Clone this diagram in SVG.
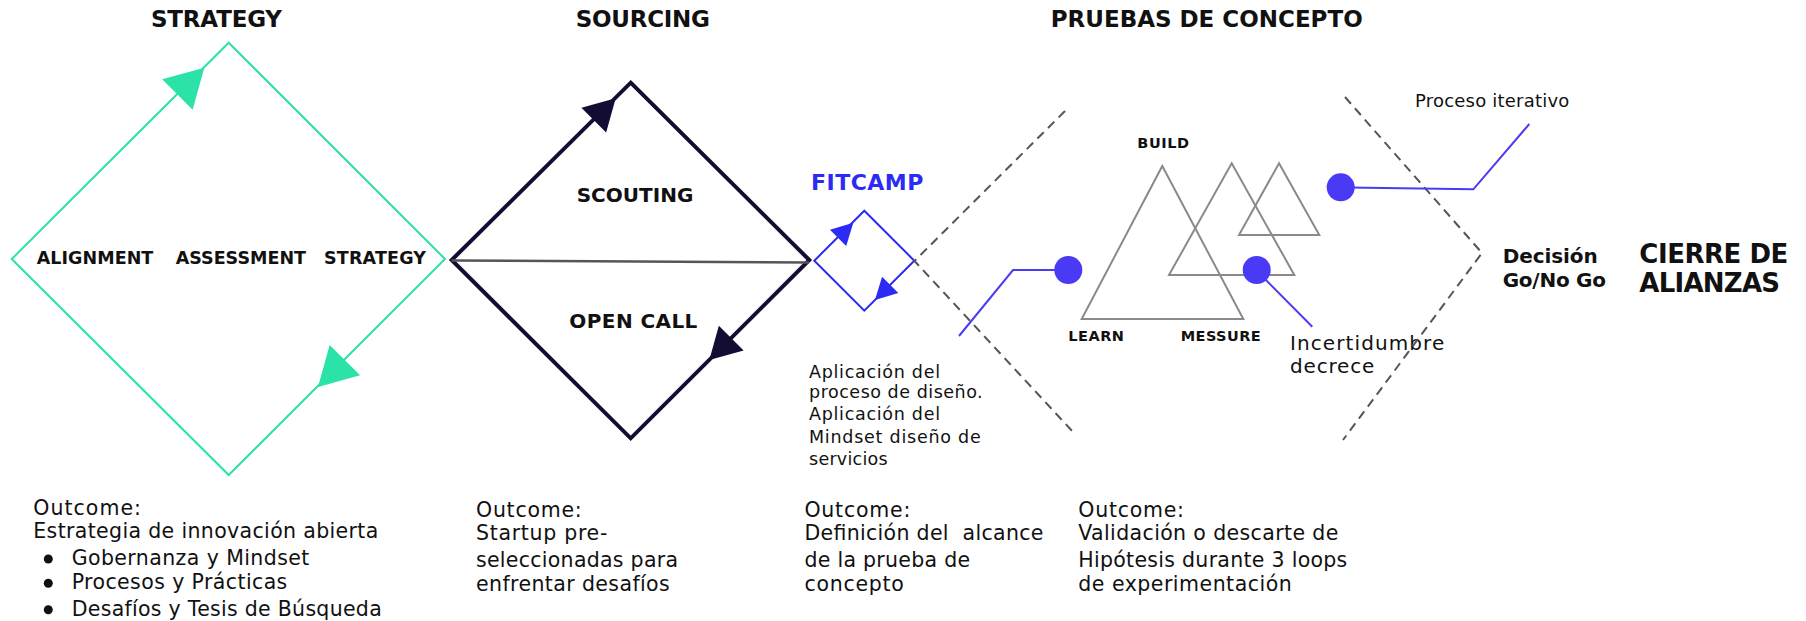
<svg xmlns="http://www.w3.org/2000/svg" xmlns:xlink="http://www.w3.org/1999/xlink" width="1806" height="621" viewBox="0 0 1806 621">
<style>
text{font-family:"DejaVu Sans","Liberation Sans",sans-serif;fill:#111}
.b{font-weight:bold}
.h{font-size:23px}
.l17{font-size:17.5px}
.l19{font-size:20px}
.r{font-size:20.5px}
.s{font-size:17.5px}
.blue{fill:#2b2bf3}
.green{fill:none;stroke:#2be2a8;stroke-width:2}
.navy{fill:none;stroke:#140d33;stroke-width:4;stroke-linejoin:miter}
.fit{fill:none;stroke:#2b2bf3;stroke-width:2}
.tri{fill:none;stroke:#8a8a8a;stroke-width:2}
.dash{fill:none;stroke:#555;stroke-width:2;stroke-dasharray:9 6}
.lead{fill:none;stroke:#4a3cf5;stroke-width:2}
.dot{fill:#4a3af5}
</style>
<defs>
<polygon id="agreen" points="0,0 -38,-21.5 -38,21.5" fill="#2be2a8"/>
<polygon id="anavy" points="0,0 -31,-17.5 -31,17.5" fill="#140d33"/>
<polygon id="ablue" points="0,0 -21.5,-11.5 -21.5,11.5" fill="#2b2bf3"/>
</defs>
<rect width="1806" height="621" fill="#fff"/>

<g id="titles">
<text class="b h" x="151" y="27.3" textLength="131">STRATEGY</text>
<text class="b h" x="575.7" y="26.7" textLength="134.3">SOURCING</text>
<text class="b h" x="1050.7" y="26.7" textLength="312">PRUEBAS DE CONCEPTO</text>
</g>

<g id="strategy">
<polygon class="green" points="228.7,42.7 445,259 228.7,475 11.7,259"/>
<text class="b l17" x="36.7" y="264.3" textLength="116.6">ALIGNMENT</text>
<text class="b l17" x="175.7" y="264.3" textLength="130.3">ASSESSMENT</text>
<text class="b l17" x="324" y="264.3" textLength="102">STRATEGY</text>
</g>

<g id="sourcing">
<polygon class="navy" points="630.7,82.7 809.3,260 630.7,438.3 451.7,260"/>
<line x1="451.7" y1="260.5" x2="809" y2="262.5" stroke="#555" stroke-width="2.5"/>
<text class="b l19" x="576.7" y="201.7" textLength="116.6">SCOUTING</text>
<text class="b l19" x="569.3" y="328.3" textLength="128">OPEN CALL</text>
</g>

<g id="fitcamp">
<text class="b blue" style="font-size:22px" x="811" y="190" textLength="112.3">FITCAMP</text>
<polygon class="fit" points="864.3,210.7 914.3,260.7 864.3,310.7 814.3,260.7"/>
<text class="s" x="809" y="377.7" textLength="131">Aplicación del</text>
<text class="s" x="809" y="398.3" textLength="173.7">proceso de diseño.</text>
<text class="s" x="809" y="420" textLength="131">Aplicación del</text>
<text class="s" x="809" y="443.3" textLength="171.7">Mindset diseño de</text>
<text class="s" x="809" y="465" textLength="78.7">servicios</text>
</g>

<g id="pruebas">
<polygon class="tri" points="1162.3,166 1243.3,319 1081.7,319"/>
<polygon class="tri" points="1231.7,163.3 1294.3,275 1169,275"/>
<polygon class="tri" points="1279,163.3 1319.3,235 1239,235"/>
<text class="b" style="font-size:14.5px" x="1137.3" y="147.7" textLength="51.7">BUILD</text>
<text class="b" style="font-size:14.5px" x="1068.3" y="340.7" textLength="55.7">LEARN</text>
<text class="b" style="font-size:14.5px" x="1180.7" y="340.7" textLength="80">MESSURE</text>
<text style="font-size:18px" x="1415" y="106.7" textLength="154.3">Proceso iterativo</text>
<text class="l19" x="1290" y="350" textLength="154.3">Incertidumbre</text>
<text class="l19" x="1290" y="373.3" textLength="84.3">decrece</text>
</g>

<g id="cierre">
<text class="b l19" x="1502.7" y="263.3" textLength="95">Decisión</text>
<text class="b l19" x="1502.7" y="287.3" textLength="103.3">Go/No Go</text>
<text class="b" style="font-size:26px" x="1639.3" y="262.7" textLength="149">CIERRE DE</text>
<text class="b" style="font-size:26px" x="1639.3" y="291.7" textLength="140.7">ALIANZAS</text>
</g>

<g id="connectors">
<use xlink:href="#agreen" transform="translate(204.3,67.7) rotate(-45)"/>
<use xlink:href="#agreen" transform="translate(318,387) rotate(135)"/>
<use xlink:href="#anavy" transform="translate(615.7,98.3) rotate(-45)"/>
<use xlink:href="#anavy" transform="translate(709.3,360) rotate(135)"/>
<use xlink:href="#ablue" transform="translate(853.3,222.7) rotate(-45)"/>
<use xlink:href="#ablue" transform="translate(875,300) rotate(135)"/>
<polyline class="dash" points="1065,111 914.5,261 1073,432"/>
<polyline class="dash" points="1345,97 1482,253 1343,440"/>
<polyline class="lead" points="959,336 1013,270 1060,270"/>
<line class="lead" x1="1262" y1="276" x2="1312.3" y2="326.7"/>
<polyline class="lead" points="1348,187.4 1473.3,189.3 1529.3,124"/>
<circle class="dot" cx="1068.3" cy="270" r="14"/>
<circle class="dot" cx="1256.7" cy="270" r="14"/>
<circle class="dot" cx="1340.7" cy="187.3" r="14"/>
</g>

<g id="outcome-strategy">
<text class="r" x="33.3" y="515" textLength="107.7">Outcome:</text>
<text class="r" x="33.3" y="538.3" textLength="345">Estrategia de innovación abierta</text>
<circle cx="48.3" cy="559" r="4.5" fill="#111"/>
<circle cx="48.3" cy="583.3" r="4.5" fill="#111"/>
<circle cx="48.3" cy="609.7" r="4.5" fill="#111"/>
<text class="r" x="71.7" y="565" textLength="237.6">Gobernanza y Mindset</text>
<text class="r" x="71.7" y="589.3" textLength="215.6">Procesos y Prácticas</text>
<text class="r" x="71.7" y="615.7" textLength="310">Desafíos y Tesis de Búsqueda</text>
</g>

<g id="outcome-sourcing">
<text class="r" x="476" y="517.3" textLength="105.7">Outcome:</text>
<text class="r" x="476" y="540" textLength="131.3">Startup pre-</text>
<text class="r" x="476" y="567.3" textLength="202">seleccionadas para</text>
<text class="r" x="476" y="590.7" textLength="193.7">enfrentar desafíos</text>
</g>

<g id="outcome-fitcamp">
<text class="r" x="804.4" y="517.3" textLength="106">Outcome:</text>
<text class="r" x="804.4" y="540" textLength="239" style="white-space:pre">Definición del  alcance</text>
<text class="r" x="804.4" y="567.3" textLength="165.7">de la prueba de</text>
<text class="r" x="804.4" y="590.7" textLength="99.5">concepto</text>
</g>

<g id="outcome-pruebas">
<text class="r" x="1078.3" y="517.3" textLength="105.7">Outcome:</text>
<text class="r" x="1078.3" y="540" textLength="260">Validación o descarte de</text>
<text class="r" x="1078.3" y="567.3" textLength="269">Hipótesis durante 3 loops</text>
<text class="r" x="1078.3" y="590.7" textLength="213.4">de experimentación</text>
</g>
</svg>
